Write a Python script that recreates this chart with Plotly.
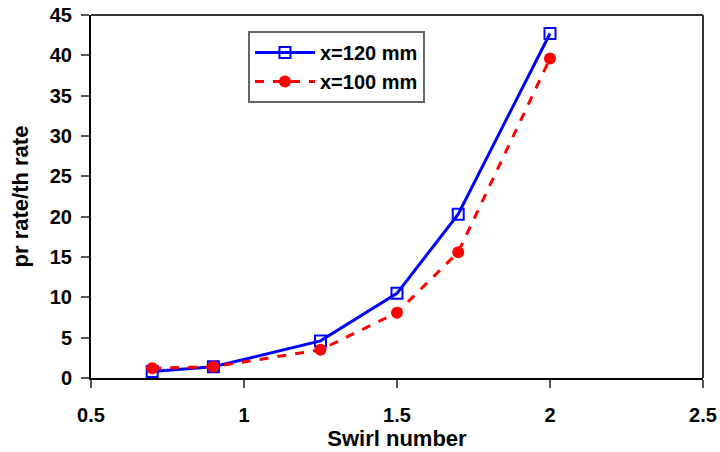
import plotly.graph_objects as go

swirl = [0.7, 0.9, 1.25, 1.5, 1.7, 2.0]
x120 = [0.8, 1.4, 4.6, 10.5, 20.3, 42.7]
x100 = [1.2, 1.4, 3.5, 8.1, 15.6, 39.6]
names = ["x=120 mm", "x=100 mm"]

FAM = "Liberation Sans, Arial"

fig = go.Figure()
fig.add_trace(go.Scatter(x=swirl, y=x120, name=names[0], mode="lines+markers",
                         line=dict(color="#0000FF", width=3),
                         marker=dict(symbol="square-open", size=11, color="#0000FF", line=dict(width=2))))
fig.add_trace(go.Scatter(x=swirl, y=x100, name=names[1], mode="lines+markers",
                         line=dict(color="#FF0000", width=3, dash="dash"),
                         marker=dict(symbol="circle", size=12, color="#FF0000")))

fig.update_layout(
    width=720, height=452,
    margin=dict(l=91, r=17, t=15, b=74),
    plot_bgcolor="white", paper_bgcolor="white",
    font=dict(family=FAM, size=16, color="black"),
    showlegend=True,
    legend=dict(x=0.2565, y=0.956, xanchor="left", yanchor="top",
                bgcolor="white", bordercolor="#666666", borderwidth=2,
                font=dict(family=FAM, size=20, color="black", weight="bold"),
                itemwidth=60),
    xaxis=dict(range=[0.5, 2.5], tickvals=[0.5, 1, 1.5, 2, 2.5],
               ticktext=["0.5", "1", "1.5", "2", "2.5"], automargin=False,
               ticklabeloverflow="allow",
               showgrid=False, zeroline=False, showline=True, linecolor="black", linewidth=2,
               ticks="outside", ticklen=8, tickcolor="#555555", tickwidth=2,
               ticklabelstandoff=10,
               tickfont=dict(family=FAM, size=20, color="black", weight="bold"),
               title=dict(text="Swirl number", standoff=0,
                          font=dict(family=FAM, size=22, color="black", weight="bold"))),
    yaxis=dict(range=[0, 45], dtick=5, automargin=False,
               ticklabeloverflow="allow",
               showgrid=False, zeroline=False, showline=True, linecolor="black", linewidth=2,
               ticks="outside", ticklen=8, tickcolor="#555555", tickwidth=2,
               ticklabelstandoff=5,
               tickfont=dict(family=FAM, size=20, color="black", weight="bold"),
               title=dict(text="pr rate/th rate", standoff=15,
                          font=dict(family=FAM, size=22, color="black", weight="bold"))),
)
fig.add_shape(type="line", xref="paper", yref="paper", x0=0, x1=1, y0=1, y1=1,
              line=dict(color="#333333", width=2))
fig.add_shape(type="line", xref="paper", yref="paper", x0=1, x1=1, y0=0, y1=1,
              line=dict(color="#333333", width=2))

# remove the default 8px page margin so the 720x452 figure fills the window
fig.write_html("out.html", config={"displayModeBar": False},
               post_script="document.body.style.margin='0';document.body.style.overflow='hidden';")
